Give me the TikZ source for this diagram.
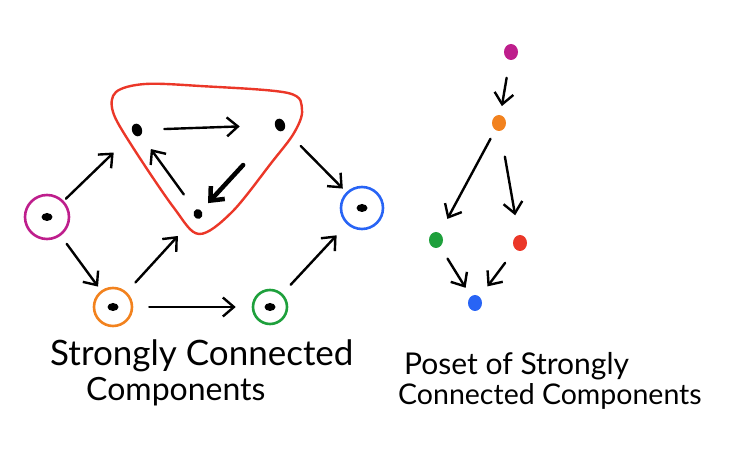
\documentclass[tikz,border=0pt]{standalone}
\usepackage{fontspec}
\setmainfont{Lato}
\usetikzlibrary{arrows.meta,positioning,shapes.geometric}
\definecolor{cmag}{RGB}{190,30,140}
\definecolor{corange}{RGB}{242,130,30}
\definecolor{cgreen}{RGB}{30,160,60}
\definecolor{cblue}{RGB}{40,100,245}
\definecolor{cred}{RGB}{235,55,40}
\newcommand{\handfont}[1]{\fontsize{#1}{#1}\selectfont}

\begin{document}
\begin{tikzpicture}[x=1pt,y=-1pt,
    comp/.style={circle, draw=#1, line width=2.6pt, minimum size=38pt, inner sep=0pt,
      path picture={\fill[black] (path picture bounding box.center) ellipse (5.5pt and 4pt);}},
    vert/.style={ellipse, fill=black, minimum width=10pt, minimum height=13pt, inner sep=0pt, rotate=20},
    pdot/.style={ellipse, fill=#1, minimum width=14pt, minimum height=16pt, inner sep=0pt},
    arr/.style={-{Straight Barb[length=11pt,width=19pt]}, line width=2.4pt, line cap=round},
    caption/.style={anchor=base west, inner sep=0pt, font=\handfont{#1}}]
    \useasboundingbox (0,0) rectangle (734,454);
    % strongly connected components
    \node[comp=cmag, minimum size=44pt] (mag) at (47,217) {};
    \node[comp=corange] (ora) at (113,307) {};
    \node[comp=cgreen, minimum size=34pt] (gre) at (270,307) {};
    \node[comp=cblue, minimum size=42pt] (blu) at (362,208) {};
    \node[vert] (va) at (137,130) {};
    \node[vert] (vb) at (280,125) {};
    \node[vert, minimum width=9pt, minimum height=10pt] (vc) at (198,214) {};
    \draw[cred, line width=2.4pt] plot[smooth cycle, tension=0.55] coordinates
      {(116,92) (145,84) (200,86) (288,93) (302,110) (294,133) (272,162)
       (232,212) (199,234) (174,208) (132,146) (113,112)};
    \draw[arr, shorten <=3pt, shorten >=27pt] (mag) -- (va);
    \draw[arr, shorten <=10pt, shorten >=5pt] (mag) -- (ora);
    \draw[arr, shorten <=13pt, shorten >=25pt] (ora) -- (vc);
    \draw[arr, shorten <=16pt, shorten >=16pt] (ora) -- (gre);
    \draw[arr, shorten <=12pt, shorten >=15pt] (gre) -- (blu);
    \draw[arr, shorten <=22pt, shorten >=35pt] (va) -- (vb);
    \draw[arr, line width=4.5pt, shorten <=49pt, shorten >=10pt] (vb) -- (vc);
    \draw[arr, shorten <=19pt, shorten >=17pt] (vc) -- (va);
    \draw[arr, shorten <=23pt, shorten >=5pt] (vb) -- (blu);
    \node[caption=35] (t1) at (50,366) {Strongly Connected};
    \node[caption=32] (t2) at (86,401) {Components};
    % poset
    \node[pdot=cmag] (pmag) at (511,52) {};
    \node[pdot=corange] (pora) at (499,123) {};
    \node[pdot=cgreen] (pgre) at (436,240) {};
    \node[pdot=cred] (pred) at (520,243) {};
    \node[pdot=cblue] (pblu) at (475,303) {};
    \draw[arr, shorten <=18pt, shorten >=9pt] (pmag) -- (pora);
    \draw[arr, shorten <=10pt, shorten >=16pt] (pora) -- (pgre);
    \draw[arr, shorten <=26pt, shorten >=20pt] (pora) -- (pred);
    \draw[arr, shorten <=14pt, shorten >=10pt] (pgre) -- (pblu);
    \draw[arr, shorten <=17pt, shorten >=13pt] (pred) -- (pblu);
    \node[caption=30] (t3) at (404,374) {Poset of Strongly};
    \node[caption=28.5] (t4) at (398,404) {Connected Components};
\end{tikzpicture}
\end{document}
